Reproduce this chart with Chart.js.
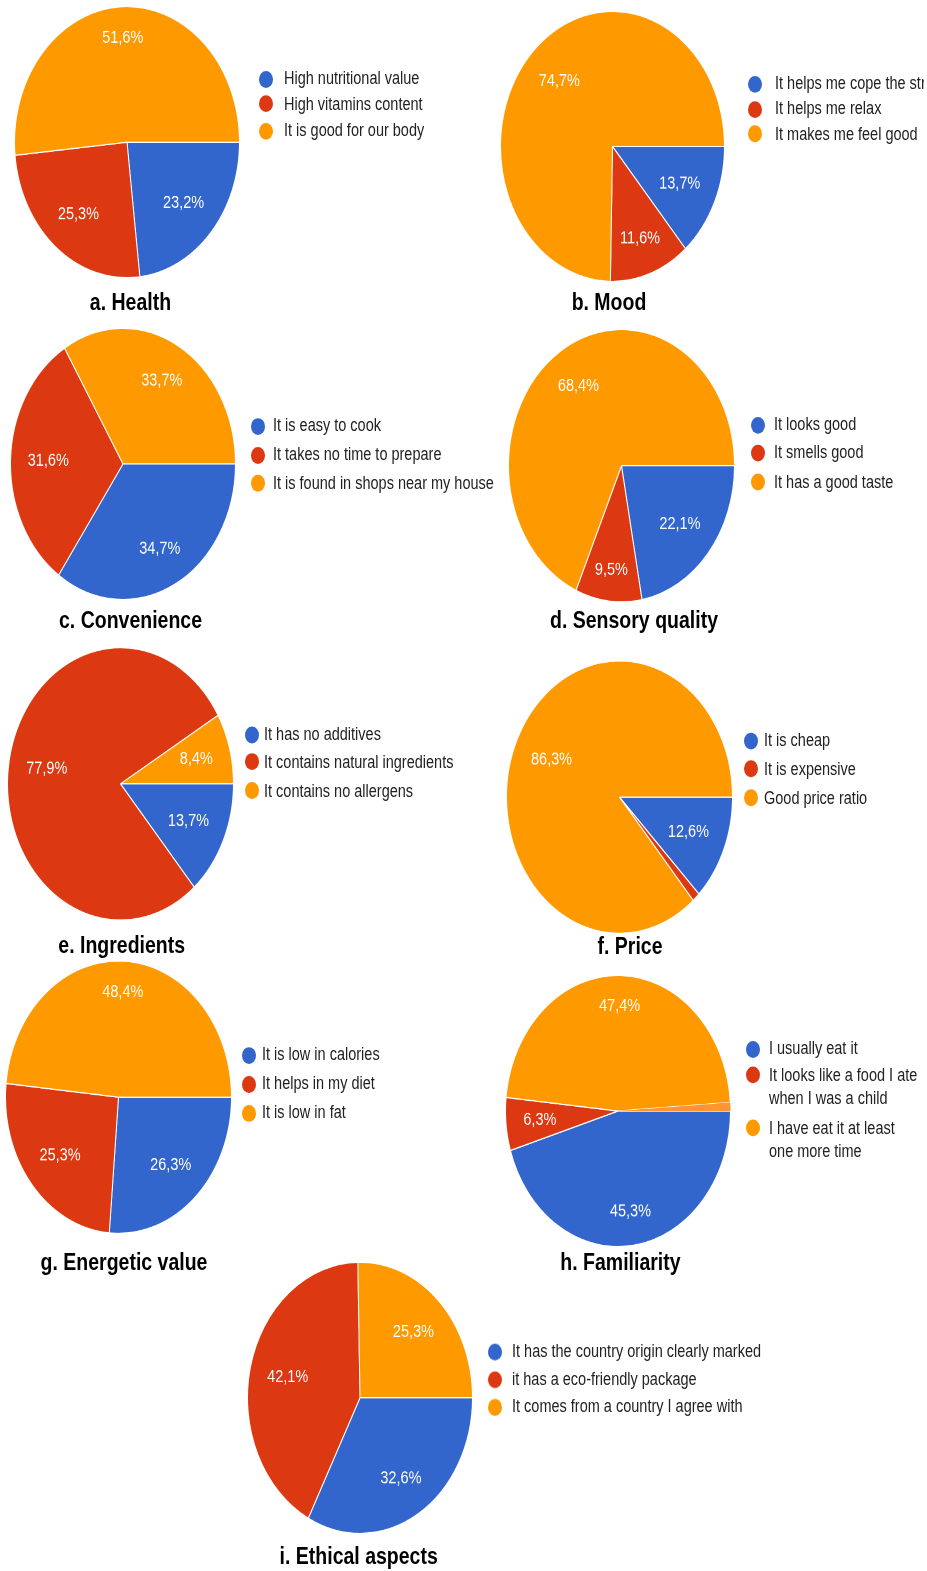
<!DOCTYPE html>
<html>
<head>
<meta charset="utf-8">
<script src="https://cdn.jsdelivr.net/npm/chart.js@4.4.1/dist/chart.umd.min.js"></script>
<style>
html, body { margin: 0; padding: 0; background: #fff; }
#wrap { position: relative; width: 927px; height: 1571px; overflow: hidden; }
#page {
    position: absolute; left: 0; top: 0; width: 927px; height: 1304px;
    transform: scale(1, 1.205); transform-origin: 0 0;
    font-family: "Liberation Sans", Arial, sans-serif;
}
.pie { position: absolute; }
.title {
    position: absolute; width: 300px; text-align: center; font-weight: bold;
    font-size: 19.5px; line-height: 20px; color: #000; white-space: nowrap;
}
.item {
    position: absolute; font-size: 14.5px; line-height: 19px; color: #222;
    white-space: nowrap; overflow: hidden;
}
.dot { position: absolute; width: 14px; height: 14px; border-radius: 50%; }
</style>
</head>
<body>
<div id="wrap"><div id="page"></div></div>
<script>
// slice colours (google style)
const colors = ['#3366cc', '#dc3912', '#ff9900', '#fe9532'];

// data, in percent
const healthLabels = ['High nutritional value', 'High vitamins content', 'It is good for our body'];
const healthValues = [23.2, 25.3, 51.6];
const moodLabels = ['It helps me cope the stress', 'It helps me relax', 'It makes me feel good'];
const moodValues = [13.7, 11.6, 74.7];
const convenienceLabels = ['It is easy to cook', 'It takes no time to prepare', 'It is found in shops near my house'];
const convenienceValues = [34.7, 31.6, 33.7];
const sensoryLabels = ['It looks good', 'It smells good', 'It has a good taste'];
const sensoryValues = [22.1, 9.5, 68.4];
const ingredientsLabels = ['It has no additives', 'It contains natural ingredients', 'It contains no allergens'];
const ingredientsValues = [13.7, 77.9, 8.4];
const priceLabels = ['It is cheap', 'It is expensive', 'Good price ratio'];
const priceValues = [12.6, 1.1, 86.3];
const energeticLabels = ['It is low in calories', 'It helps in my diet', 'It is low in fat'];
const energeticValues = [26.3, 25.3, 48.4];
const familiarityLabels = ['I usually eat it', ['It looks like a food I ate', 'when I was a child'], ['I have eat it at least', 'one more time']];
const familiarityValues = [45.3, 6.3, 47.4, 1.0];
const ethicalLabels = ['It has the country origin clearly marked', 'it has a eco-friendly package', 'It comes from a country I agree with'];
const ethicalValues = [32.6, 42.1, 25.3];

const titles = ['a. Health', 'b. Mood', 'c. Convenience', 'd. Sensory quality', 'e. Ingredients',
    'f. Price', 'g. Energetic value', 'h. Familiarity', 'i. Ethical aspects'];

// placement on the page (y values are in the stretched picture)
const S = 1.205;
const layout = [
    { labels: healthLabels, values: healthValues, cx: 127, cy: 142, r: 112, legX: 266, txtX: 284, legY: [79, 104, 131], tX: 130.5, tY: 310 },
    { labels: moodLabels, values: moodValues, cx: 612.5, cy: 146, r: 111.5, legX: 755, txtX: 775, legY: [84, 109.5, 134], tX: 609, tY: 310 },
    { labels: convenienceLabels, values: convenienceValues, cx: 123, cy: 464, r: 112, legX: 258, txtX: 273, legY: [426, 455, 483.5], tX: 130.5, tY: 628 },
    { labels: sensoryLabels, values: sensoryValues, cx: 621.5, cy: 466, r: 112.5, legX: 758, txtX: 774, legY: [425, 453, 482.5], tX: 634, tY: 628 },
    { labels: ingredientsLabels, values: ingredientsValues, cx: 120, cy: 784, r: 112.5, legX: 252, txtX: 264, legY: [734.5, 762, 791], tX: 121.7, tY: 953 },
    { labels: priceLabels, values: priceValues, cx: 619.5, cy: 797, r: 112.5, legX: 751, txtX: 764, legY: [740.5, 769, 798], tX: 630, tY: 954 },
    { labels: energeticLabels, values: energeticValues, cx: 118.5, cy: 1097, r: 112.5, legX: 249, txtX: 262, legY: [1055, 1084, 1113], tX: 124, tY: 1270 },
    { labels: familiarityLabels, values: familiarityValues, cx: 618, cy: 1111, r: 112, legX: 753, txtX: 769, legY: [1049, 1075, 1128], tX: 620.5, tY: 1270 },
    { labels: ethicalLabels, values: ethicalValues, cx: 360, cy: 1397.5, r: 112, legX: 495, txtX: 512, legY: [1352, 1379.5, 1407], tX: 358.7, tY: 1564 }
];

// white percent labels inside the slices
const pctLabels = {
    id: 'pctLabels',
    afterDatasetsDraw(chart) {
        const ctx = chart.ctx;
        const meta = chart.getDatasetMeta(0);
        const vals = chart.data.datasets[0].data;
        ctx.save();
        ctx.font = '14.5px "Liberation Sans", Arial, sans-serif';
        ctx.fillStyle = '#fff';
        ctx.textAlign = 'center';
        ctx.textBaseline = 'middle';
        meta.data.forEach((arc, i) => {
            const v = vals[i];
            if (v < 5) return;
            const p = arc.getProps(['x', 'y', 'startAngle', 'endAngle', 'outerRadius'], true);
            const mid = (p.startAngle + p.endAngle) / 2;
            const c = Math.cos(mid), s = Math.sin(mid);
            const txt = v.toFixed(1).replace('.', ',') + '%';
            const hw = ctx.measureText(txt).width / 2, hh = 6;
            const R0 = 0.85 * p.outerRadius;
            const A = Math.abs(c) * hw + Math.abs(s) * hh;
            const d = -A + Math.sqrt(A * A - hw * hw - hh * hh + R0 * R0);
            ctx.fillText(txt, p.x + c * d, p.y + s * d);
        });
        ctx.restore();
    }
};

const page = document.getElementById('page');

layout.forEach((L, n) => {
    // pie
    const size = Math.round(2 * (L.r + 1));
    const canvas = document.createElement('canvas');
    canvas.className = 'pie';
    canvas.width = size;
    canvas.height = size;
    canvas.style.width = size + 'px';
    canvas.style.height = size + 'px';
    canvas.style.left = (L.cx - size / 2) + 'px';
    canvas.style.top = (L.cy / S - size / 2) + 'px';
    page.appendChild(canvas);

    new Chart(canvas.getContext('2d'), {
        type: 'pie',
        data: {
            labels: L.values.map((v, i) => L.labels[i] || ''),
            datasets: [{
                data: L.values,
                backgroundColor: colors.slice(0, L.values.length),
                borderColor: '#fff',
                borderWidth: L.values.map((v, i) => i < 3 ? 1 : 0)
            }]
        },
        options: {
            responsive: false,
            devicePixelRatio: 2,
            animation: false,
            rotation: 90,
            layout: { padding: 0 },
            plugins: { legend: { display: false }, tooltip: { enabled: false } }
        },
        plugins: [pctLabels]
    });

    // legend
    L.labels.forEach((lab, i) => {
        const y = L.legY[i] / S;
        const dot = document.createElement('div');
        dot.className = 'dot';
        dot.style.background = colors[i];
        dot.style.left = (L.legX - 7) + 'px';
        dot.style.top = (y - 7) + 'px';
        page.appendChild(dot);

        const item = document.createElement('div');
        item.className = 'item';
        item.style.left = L.txtX + 'px';
        item.style.top = (y - 9.5) + 'px';
        item.style.maxWidth = (924 - L.txtX) + 'px';
        item.innerHTML = Array.isArray(lab) ? lab.join('<br>') : lab;
        page.appendChild(item);
    });

    // title
    const t = document.createElement('div');
    t.className = 'title';
    t.textContent = titles[n];
    t.style.left = (L.tX - 150) + 'px';
    t.style.top = (L.tY / S - 17) + 'px';
    page.appendChild(t);
});
</script>
</body>
</html>
